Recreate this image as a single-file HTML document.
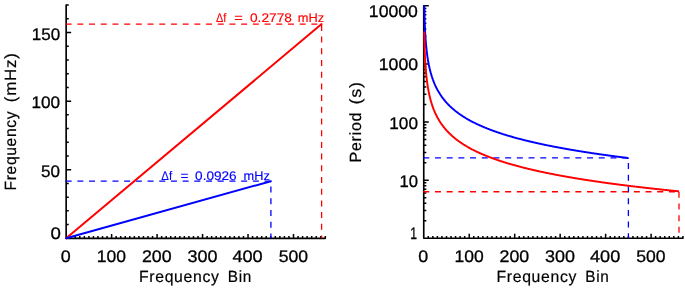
<!DOCTYPE html>
<html lang="en"><head><meta charset="utf-8"><title>Frequency and Period vs Frequency Bin</title>
<style>html,body{margin:0;padding:0;background:#fff;overflow:hidden}svg{display:block;will-change:transform}</style>
</head><body>
<svg width="685" height="288" viewBox="0 0 685 288" font-family='"Liberation Sans", sans-serif' stroke-width="0.3" text-rendering="geometricPrecision">
<path d="M66.15 5.1V238.3H325.33" stroke="#000000" stroke-width="1.65" fill="none" stroke-linecap="round" stroke-linejoin="round"/>
<path d="M70.7 238.3v-2.2M75.24 238.3v-2.2M79.79 238.3v-2.2M84.34 238.3v-2.2M88.89 238.3v-2.2M93.43 238.3v-2.2M97.98 238.3v-2.2M102.53 238.3v-2.2M107.07 238.3v-2.2M111.62 238.3v-4.4M116.17 238.3v-2.2M120.71 238.3v-2.2M125.26 238.3v-2.2M129.81 238.3v-2.2M134.36 238.3v-2.2M138.9 238.3v-2.2M143.45 238.3v-2.2M148 238.3v-2.2M152.54 238.3v-2.2M157.09 238.3v-4.4M161.64 238.3v-2.2M166.18 238.3v-2.2M170.73 238.3v-2.2M175.28 238.3v-2.2M179.82 238.3v-2.2M184.37 238.3v-2.2M188.92 238.3v-2.2M193.47 238.3v-2.2M198.01 238.3v-2.2M202.56 238.3v-4.4M207.11 238.3v-2.2M211.65 238.3v-2.2M216.2 238.3v-2.2M220.75 238.3v-2.2M225.3 238.3v-2.2M229.84 238.3v-2.2M234.39 238.3v-2.2M238.94 238.3v-2.2M243.48 238.3v-2.2M248.03 238.3v-4.4M252.58 238.3v-2.2M257.12 238.3v-2.2M261.67 238.3v-2.2M266.22 238.3v-2.2M270.76 238.3v-2.2M275.31 238.3v-2.2M279.86 238.3v-2.2M284.41 238.3v-2.2M288.95 238.3v-2.2M293.5 238.3v-4.4M298.05 238.3v-2.2M302.59 238.3v-2.2M307.14 238.3v-2.2M311.69 238.3v-2.2M316.24 238.3v-2.2M320.78 238.3v-2.2M325.33 238.3v-2.2M66.15 224.58h2.6M66.15 210.87h2.6M66.15 197.15h2.6M66.15 183.43h2.6M66.15 169.72h5M66.15 156h2.6M66.15 142.28h2.6M66.15 128.57h2.6M66.15 114.85h2.6M66.15 101.13h5M66.15 87.42h2.6M66.15 73.7h2.6M66.15 59.98h2.6M66.15 46.27h2.6M66.15 32.55h5M66.15 18.83h2.6M66.15 5.12h2.6" stroke="#000000" stroke-width="1.5" fill="none"/>
<path d="M65.65 24.1H321.6" stroke="#ff0000" stroke-width="1.3" stroke-dasharray="6 5.7" stroke-dashoffset="0" fill="none"/>
<path d="M321.6 24.9V238.3" stroke="#ff0000" stroke-width="1.3" stroke-dasharray="6 5.7" stroke-dashoffset="0" fill="none"/>
<path d="M65.65 181.2H270.9" stroke="#0000ff" stroke-width="1.3" stroke-dasharray="6 5.7" stroke-dashoffset="0" fill="none"/>
<path d="M270.9 181.2V238.3" stroke="#0000ff" stroke-width="1.3" stroke-dasharray="6 5.7" stroke-dashoffset="6.3" fill="none"/>
<path d="M66.15 238.3L321.6 24.1" stroke="#ff0000" stroke-width="1.95" fill="none" stroke-linecap="round"/>
<path d="M66.15 238.3L270.9 181.2" stroke="#0000ff" stroke-width="1.95" fill="none" stroke-linecap="round"/>
<text transform="translate(60.7 262.3) scale(1.0667 1)" font-size="16.8" fill="#000000"  stroke="#000000">0</text>
<text transform="translate(96.86 262.3) scale(1.0425 1)" font-size="16.8" fill="#000000"  stroke="#000000">100</text>
<text transform="translate(141.9 262.3) scale(1.0591 1)" font-size="16.8" fill="#000000"  stroke="#000000">200</text>
<text transform="translate(187.5 262.3) scale(1.0699 1)" font-size="16.8" fill="#000000"  stroke="#000000">300</text>
<text transform="translate(232.4 262.3) scale(1.0808 1)" font-size="16.8" fill="#000000"  stroke="#000000">400</text>
<text transform="translate(278.7 262.3) scale(1.0482 1)" font-size="16.8" fill="#000000"  stroke="#000000">500</text>
<text transform="translate(31.79 39.7) scale(1.0125 1)" font-size="16.8" fill="#000000"  stroke="#000000">150</text>
<text transform="translate(31.48 108.4) scale(1.0238 1)" font-size="16.8" fill="#000000"  stroke="#000000">100</text>
<text transform="translate(41.1 176.9) scale(1.0146 1)" font-size="16.8" fill="#000000"  stroke="#000000">50</text>
<text transform="translate(50.6 238.8) scale(1.1111 1)" font-size="16.8" fill="#000000"  stroke="#000000">0</text>
<text transform="translate(138.93 281.75) scale(0.9712 1)" font-size="16.25" fill="#000000"  stroke="#000000" stroke-width="0.2" letter-spacing="0.7">Frequency</text>
<text transform="translate(227.76 281.75) scale(0.9436 1)" font-size="16.25" fill="#000000"  stroke="#000000" stroke-width="0.2" letter-spacing="0.7">Bin</text>
<text transform="translate(16.3 190.56) rotate(-90) scale(0.9614 1)" font-size="16.25" fill="#000000"  stroke="#000000" stroke-width="0.2" letter-spacing="0.7">Frequency</text>
<text transform="translate(16.3 102.14) rotate(-90) scale(1.0399 1)" font-size="16.25" fill="#000000"  stroke="#000000" stroke-width="0.2" letter-spacing="0.7">(mHz)</text>
<text transform="translate(215.9 22.2) scale(0.8745 1)" font-size="12.5" fill="#ff0000"  stroke="#ff0000" stroke-width="0.15">Δf</text>
<text transform="translate(234.2 22.2) scale(1.1714 1)" font-size="12.5" fill="#ff0000"  stroke="#ff0000" stroke-width="0.15">=</text>
<text transform="translate(250 22.2) scale(1.0946 1)" font-size="12.5" fill="#ff0000"  stroke="#ff0000" stroke-width="0.15">0.2778</text>
<text transform="translate(297.8 22.2) scale(1.0260 1)" font-size="12.5" fill="#ff0000"  stroke="#ff0000" stroke-width="0.15">mHz</text>
<text transform="translate(161.3 180.2) scale(0.9150 1)" font-size="12.5" fill="#0000ff"  stroke="#0000ff" stroke-width="0.15">Δf</text>
<text transform="translate(180.4 180.2) scale(1.0857 1)" font-size="12.5" fill="#0000ff"  stroke="#0000ff" stroke-width="0.15">=</text>
<text transform="translate(195.1 180.2) scale(1.0867 1)" font-size="12.5" fill="#0000ff"  stroke="#0000ff" stroke-width="0.15">0.0926</text>
<text transform="translate(243.6 180.2) scale(1.0181 1)" font-size="12.5" fill="#0000ff"  stroke="#0000ff" stroke-width="0.15">mHz</text>
<clipPath id="c"><rect x="421.75" y="5.5" width="270" height="240"/></clipPath>
<path d="M423.75 5.8V238.25H682.93" stroke="#000000" stroke-width="1.65" fill="none" stroke-linecap="round" stroke-linejoin="round"/>
<path d="M428.3 238.25v-2.2M432.84 238.25v-2.2M437.39 238.25v-2.2M441.94 238.25v-2.2M446.49 238.25v-2.2M451.03 238.25v-2.2M455.58 238.25v-2.2M460.13 238.25v-2.2M464.67 238.25v-2.2M469.22 238.25v-4.4M473.77 238.25v-2.2M478.31 238.25v-2.2M482.86 238.25v-2.2M487.41 238.25v-2.2M491.95 238.25v-2.2M496.5 238.25v-2.2M501.05 238.25v-2.2M505.6 238.25v-2.2M510.14 238.25v-2.2M514.69 238.25v-4.4M519.24 238.25v-2.2M523.78 238.25v-2.2M528.33 238.25v-2.2M532.88 238.25v-2.2M537.42 238.25v-2.2M541.97 238.25v-2.2M546.52 238.25v-2.2M551.07 238.25v-2.2M555.61 238.25v-2.2M560.16 238.25v-4.4M564.71 238.25v-2.2M569.25 238.25v-2.2M573.8 238.25v-2.2M578.35 238.25v-2.2M582.89 238.25v-2.2M587.44 238.25v-2.2M591.99 238.25v-2.2M596.54 238.25v-2.2M601.08 238.25v-2.2M605.63 238.25v-4.4M610.18 238.25v-2.2M614.72 238.25v-2.2M619.27 238.25v-2.2M623.82 238.25v-2.2M628.37 238.25v-2.2M632.91 238.25v-2.2M637.46 238.25v-2.2M642.01 238.25v-2.2M646.55 238.25v-2.2M651.1 238.25v-4.4M655.65 238.25v-2.2M660.19 238.25v-2.2M664.74 238.25v-2.2M669.29 238.25v-2.2M673.84 238.25v-2.2M678.38 238.25v-2.2M682.93 238.25v-2.2M423.75 220.76h2.6M423.75 210.52h2.6M423.75 203.26h2.6M423.75 197.63h2.6M423.75 193.03h2.6M423.75 189.14h2.6M423.75 185.77h2.6M423.75 182.8h2.6M423.75 180.14h5M423.75 162.64h2.6M423.75 152.41h2.6M423.75 145.15h2.6M423.75 139.52h2.6M423.75 134.92h2.6M423.75 131.03h2.6M423.75 127.66h2.6M423.75 124.68h2.6M423.75 122.03h5M423.75 104.53h2.6M423.75 94.3h2.6M423.75 87.04h2.6M423.75 81.41h2.6M423.75 76.8h2.6M423.75 72.91h2.6M423.75 69.54h2.6M423.75 66.57h2.6M423.75 63.91h5M423.75 46.42h2.6M423.75 36.19h2.6M423.75 28.93h2.6M423.75 23.29h2.6M423.75 18.69h2.6M423.75 14.8h2.6M423.75 11.43h2.6M423.75 8.46h2.6M423.75 5.8h5" stroke="#000000" stroke-width="1.5" fill="none"/>
<path d="M423.25 157.8H628.4" stroke="#0000ff" stroke-width="1.3" stroke-dasharray="6 5.7" stroke-dashoffset="0" fill="none"/>
<path d="M628.4 157.8V238.25" stroke="#0000ff" stroke-width="1.3" stroke-dasharray="6 5.7" stroke-dashoffset="6.4" fill="none"/>
<path d="M423.25 191.75H679" stroke="#ff0000" stroke-width="1.3" stroke-dasharray="6 5.7" stroke-dashoffset="0" fill="none"/>
<path d="M679 191.75V238.25" stroke="#ff0000" stroke-width="1.3" stroke-dasharray="6 5.7" stroke-dashoffset="0" fill="none"/>
<path clip-path="url(#c)" d="M424.2 3.86L424.66 21.35L425.11 31.59L425.57 38.85L426.02 44.48L426.48 49.08L426.93 52.97L427.39 56.34L427.84 59.31L428.3 61.97L428.75 64.38L429.21 66.57L429.66 68.59L430.12 70.46L430.57 72.21L431.03 73.83L431.48 75.36L431.93 76.81L432.39 78.17L432.84 79.47L433.3 80.7L433.75 81.87L434.21 82.99L434.66 84.07L435.12 85.1L435.57 86.09L436.03 87.04L436.48 87.96L436.94 88.84L437.39 89.7L437.85 90.53L438.3 91.33L438.76 92.1L439.21 92.86L439.66 93.59L440.12 94.3L440.57 94.99L441.03 95.66L441.48 96.32L441.94 96.96L442.39 97.58L442.85 98.19L443.3 98.78L443.76 99.36L444.21 99.93L444.67 100.49L445.12 101.03L445.58 101.56L446.03 102.08L446.49 102.59L446.94 103.09L447.39 103.58L447.85 104.06L448.3 104.53L448.76 105L449.21 105.45L449.67 105.9L450.12 106.34L450.58 106.77L451.03 107.19L451.49 107.61L451.94 108.02L452.4 108.42L452.85 108.82L453.31 109.21L453.76 109.6L454.21 109.98L454.67 110.35L455.12 110.72L455.58 111.08L456.03 111.44L456.49 111.79L456.94 112.14L457.4 112.49L457.85 112.82L458.31 113.16L458.76 113.49L459.22 113.81L459.67 114.14L460.13 114.45L460.58 114.77L461.04 115.08L461.49 115.38L461.94 115.68L462.4 115.98L462.85 116.28L463.31 116.57L463.76 116.86L464.22 117.14L464.67 117.43L465.13 117.7L465.58 117.98L466.04 118.25L466.49 118.52L466.95 118.79L467.4 119.05L467.86 119.32L468.31 119.57L468.77 119.83L469.22 120.08L469.67 120.34L470.13 120.58L470.58 120.83L471.04 121.07L471.49 121.32L471.95 121.56L472.4 121.79L472.86 122.03L473.31 122.26L473.77 122.49L474.22 122.72L474.68 122.94L475.13 123.17L475.59 123.39L476.04 123.61L476.5 123.83L476.95 124.05L477.4 124.26L477.86 124.47L478.31 124.69L478.77 124.9L479.22 125.1L479.68 125.31L480.13 125.51L480.59 125.72L481.04 125.92L481.5 126.12L481.95 126.31L482.41 126.51L482.86 126.71L483.32 126.9L483.77 127.09L484.23 127.28L484.68 127.47L485.13 127.66L485.59 127.84L486.04 128.03L486.5 128.21L486.95 128.4L487.41 128.58L487.86 128.76L488.32 128.93L488.77 129.11L489.23 129.29L489.68 129.46L490.14 129.64L490.59 129.81L491.05 129.98L491.5 130.15L491.95 130.32L492.41 130.49L492.86 130.65L493.32 130.82L493.77 130.98L494.23 131.15L494.68 131.31L495.14 131.47L495.59 131.63L496.05 131.79L496.5 131.95L496.96 132.1L497.41 132.26L497.87 132.42L498.32 132.57L498.78 132.72L499.23 132.88L499.68 133.03L500.14 133.18L500.59 133.33L501.05 133.48L501.5 133.62L501.96 133.77L502.41 133.92L502.87 134.06L503.32 134.21L503.78 134.35L504.23 134.5L504.69 134.64L505.14 134.78L505.6 134.92L506.05 135.06L506.51 135.2L506.96 135.34L507.41 135.47L507.87 135.61L508.32 135.75L508.78 135.88L509.23 136.02L509.69 136.15L510.14 136.28L510.6 136.42L511.05 136.55L511.51 136.68L511.96 136.81L512.42 136.94L512.87 137.07L513.33 137.2L513.78 137.32L514.24 137.45L514.69 137.58L515.14 137.7L515.6 137.83L516.05 137.95L516.51 138.08L516.96 138.2L517.42 138.32L517.87 138.45L518.33 138.57L518.78 138.69L519.24 138.81L519.69 138.93L520.15 139.05L520.6 139.17L521.06 139.29L521.51 139.4L521.97 139.52L522.42 139.64L522.87 139.75L523.33 139.87L523.78 139.98L524.24 140.1L524.69 140.21L525.15 140.33L525.6 140.44L526.06 140.55L526.51 140.66L526.97 140.77L527.42 140.89L527.88 141L528.33 141.11L528.79 141.22L529.24 141.32L529.7 141.43L530.15 141.54L530.6 141.65L531.06 141.76L531.51 141.86L531.97 141.97L532.42 142.07L532.88 142.18L533.33 142.28L533.79 142.39L534.24 142.49L534.7 142.6L535.15 142.7L535.61 142.8L536.06 142.91L536.52 143.01L536.97 143.11L537.42 143.21L537.88 143.31L538.33 143.41L538.79 143.51L539.24 143.61L539.7 143.71L540.15 143.81L540.61 143.91L541.06 144L541.52 144.1L541.97 144.2L542.43 144.3L542.88 144.39L543.34 144.49L543.79 144.59L544.25 144.68L544.7 144.78L545.15 144.87L545.61 144.96L546.06 145.06L546.52 145.15L546.97 145.25L547.43 145.34L547.88 145.43L548.34 145.52L548.79 145.62L549.25 145.71L549.7 145.8L550.16 145.89L550.61 145.98L551.07 146.07L551.52 146.16L551.98 146.25L552.43 146.34L552.88 146.43L553.34 146.52L553.79 146.61L554.25 146.69L554.7 146.78L555.16 146.87L555.61 146.96L556.07 147.04L556.52 147.13L556.98 147.22L557.43 147.3L557.89 147.39L558.34 147.47L558.8 147.56L559.25 147.64L559.71 147.73L560.16 147.81L560.61 147.9L561.07 147.98L561.52 148.06L561.98 148.15L562.43 148.23L562.89 148.31L563.34 148.39L563.8 148.48L564.25 148.56L564.71 148.64L565.16 148.72L565.62 148.8L566.07 148.88L566.53 148.96L566.98 149.04L567.44 149.12L567.89 149.2L568.34 149.28L568.8 149.36L569.25 149.44L569.71 149.52L570.16 149.6L570.62 149.68L571.07 149.75L571.53 149.83L571.98 149.91L572.44 149.99L572.89 150.06L573.35 150.14L573.8 150.22L574.26 150.29L574.71 150.37L575.17 150.45L575.62 150.52L576.07 150.6L576.53 150.67L576.98 150.75L577.44 150.82L577.89 150.9L578.35 150.97L578.8 151.04L579.26 151.12L579.71 151.19L580.17 151.27L580.62 151.34L581.08 151.41L581.53 151.48L581.99 151.56L582.44 151.63L582.89 151.7L583.35 151.77L583.8 151.85L584.26 151.92L584.71 151.99L585.17 152.06L585.62 152.13L586.08 152.2L586.53 152.27L586.99 152.34L587.44 152.41L587.9 152.48L588.35 152.55L588.81 152.62L589.26 152.69L589.72 152.76L590.17 152.83L590.62 152.9L591.08 152.97L591.53 153.04L591.99 153.1L592.44 153.17L592.9 153.24L593.35 153.31L593.81 153.38L594.26 153.44L594.72 153.51L595.17 153.58L595.63 153.64L596.08 153.71L596.54 153.78L596.99 153.84L597.45 153.91L597.9 153.98L598.35 154.04L598.81 154.11L599.26 154.17L599.72 154.24L600.17 154.3L600.63 154.37L601.08 154.43L601.54 154.5L601.99 154.56L602.45 154.63L602.9 154.69L603.36 154.75L603.81 154.82L604.27 154.88L604.72 154.95L605.18 155.01L605.63 155.07L606.08 155.13L606.54 155.2L606.99 155.26L607.45 155.32L607.9 155.39L608.36 155.45L608.81 155.51L609.27 155.57L609.72 155.63L610.18 155.7L610.63 155.76L611.09 155.82L611.54 155.88L612 155.94L612.45 156L612.91 156.06L613.36 156.12L613.81 156.18L614.27 156.24L614.72 156.3L615.18 156.36L615.63 156.42L616.09 156.48L616.54 156.54L617 156.6L617.45 156.66L617.91 156.72L618.36 156.78L618.82 156.84L619.27 156.9L619.73 156.96L620.18 157.01L620.64 157.07L621.09 157.13L621.54 157.19L622 157.25L622.45 157.3L622.91 157.36L623.36 157.42L623.82 157.48L624.27 157.53L624.73 157.59L625.18 157.65L625.64 157.71L626.09 157.76L626.55 157.82L627 157.88L627.46 157.93L627.91 157.99L628.4 157.5" stroke="#0000ff" stroke-width="1.95" fill="none" stroke-linejoin="round"/>
<path clip-path="url(#c)" d="M424.2 31.59L424.66 49.08L425.11 59.31L425.57 66.57L426.02 72.21L426.48 76.81L426.93 80.7L427.39 84.07L427.84 87.04L428.3 89.7L428.75 92.1L429.21 94.3L429.66 96.32L430.12 98.19L430.57 99.93L431.03 101.56L431.48 103.09L431.93 104.53L432.39 105.9L432.84 107.19L433.3 108.42L433.75 109.6L434.21 110.72L434.66 111.79L435.12 112.82L435.57 113.81L436.03 114.77L436.48 115.68L436.94 116.57L437.39 117.43L437.85 118.25L438.3 119.05L438.76 119.83L439.21 120.58L439.66 121.32L440.12 122.03L440.57 122.72L441.03 123.39L441.48 124.05L441.94 124.69L442.39 125.31L442.85 125.92L443.3 126.51L443.76 127.09L444.21 127.66L444.67 128.21L445.12 128.76L445.58 129.29L446.03 129.81L446.49 130.32L446.94 130.82L447.39 131.31L447.85 131.79L448.3 132.26L448.76 132.72L449.21 133.18L449.67 133.62L450.12 134.06L450.58 134.5L451.03 134.92L451.49 135.34L451.94 135.75L452.4 136.15L452.85 136.55L453.31 136.94L453.76 137.32L454.21 137.7L454.67 138.08L455.12 138.45L455.58 138.81L456.03 139.17L456.49 139.52L456.94 139.87L457.4 140.21L457.85 140.55L458.31 140.89L458.76 141.22L459.22 141.54L459.67 141.86L460.13 142.18L460.58 142.49L461.04 142.8L461.49 143.11L461.94 143.41L462.4 143.71L462.85 144L463.31 144.3L463.76 144.59L464.22 144.87L464.67 145.15L465.13 145.43L465.58 145.71L466.04 145.98L466.49 146.25L466.95 146.52L467.4 146.78L467.86 147.04L468.31 147.3L468.77 147.56L469.22 147.81L469.67 148.06L470.13 148.31L470.58 148.56L471.04 148.8L471.49 149.04L471.95 149.28L472.4 149.52L472.86 149.75L473.31 149.99L473.77 150.22L474.22 150.45L474.68 150.67L475.13 150.9L475.59 151.12L476.04 151.34L476.5 151.56L476.95 151.77L477.4 151.99L477.86 152.2L478.31 152.41L478.77 152.62L479.22 152.83L479.68 153.04L480.13 153.24L480.59 153.44L481.04 153.64L481.5 153.84L481.95 154.04L482.41 154.24L482.86 154.43L483.32 154.63L483.77 154.82L484.23 155.01L484.68 155.2L485.13 155.39L485.59 155.57L486.04 155.76L486.5 155.94L486.95 156.12L487.41 156.3L487.86 156.48L488.32 156.66L488.77 156.84L489.23 157.01L489.68 157.19L490.14 157.36L490.59 157.53L491.05 157.71L491.5 157.88L491.95 158.04L492.41 158.21L492.86 158.38L493.32 158.54L493.77 158.71L494.23 158.87L494.68 159.03L495.14 159.2L495.59 159.36L496.05 159.52L496.5 159.67L496.96 159.83L497.41 159.99L497.87 160.14L498.32 160.3L498.78 160.45L499.23 160.6L499.68 160.75L500.14 160.9L500.59 161.05L501.05 161.2L501.5 161.35L501.96 161.5L502.41 161.64L502.87 161.79L503.32 161.93L503.78 162.08L504.23 162.22L504.69 162.36L505.14 162.51L505.6 162.65L506.05 162.79L506.51 162.92L506.96 163.06L507.41 163.2L507.87 163.34L508.32 163.47L508.78 163.61L509.23 163.74L509.69 163.88L510.14 164.01L510.6 164.14L511.05 164.27L511.51 164.41L511.96 164.54L512.42 164.67L512.87 164.8L513.33 164.92L513.78 165.05L514.24 165.18L514.69 165.3L515.14 165.43L515.6 165.56L516.05 165.68L516.51 165.8L516.96 165.93L517.42 166.05L517.87 166.17L518.33 166.29L518.78 166.42L519.24 166.54L519.69 166.66L520.15 166.78L520.6 166.89L521.06 167.01L521.51 167.13L521.97 167.25L522.42 167.36L522.87 167.48L523.33 167.6L523.78 167.71L524.24 167.82L524.69 167.94L525.15 168.05L525.6 168.17L526.06 168.28L526.51 168.39L526.97 168.5L527.42 168.61L527.88 168.72L528.33 168.83L528.79 168.94L529.24 169.05L529.7 169.16L530.15 169.27L530.6 169.38L531.06 169.48L531.51 169.59L531.97 169.7L532.42 169.8L532.88 169.91L533.33 170.01L533.79 170.12L534.24 170.22L534.7 170.32L535.15 170.43L535.61 170.53L536.06 170.63L536.52 170.73L536.97 170.84L537.42 170.94L537.88 171.04L538.33 171.14L538.79 171.24L539.24 171.34L539.7 171.44L540.15 171.54L540.61 171.63L541.06 171.73L541.52 171.83L541.97 171.93L542.43 172.02L542.88 172.12L543.34 172.22L543.79 172.31L544.25 172.41L544.7 172.5L545.15 172.6L545.61 172.69L546.06 172.79L546.52 172.88L546.97 172.97L547.43 173.07L547.88 173.16L548.34 173.25L548.79 173.34L549.25 173.43L549.7 173.52L550.16 173.62L550.61 173.71L551.07 173.8L551.52 173.89L551.98 173.98L552.43 174.07L552.88 174.15L553.34 174.24L553.79 174.33L554.25 174.42L554.7 174.51L555.16 174.6L555.61 174.68L556.07 174.77L556.52 174.86L556.98 174.94L557.43 175.03L557.89 175.11L558.34 175.2L558.8 175.28L559.25 175.37L559.71 175.45L560.16 175.54L560.61 175.62L561.07 175.71L561.52 175.79L561.98 175.87L562.43 175.96L562.89 176.04L563.34 176.12L563.8 176.2L564.25 176.28L564.71 176.37L565.16 176.45L565.62 176.53L566.07 176.61L566.53 176.69L566.98 176.77L567.44 176.85L567.89 176.93L568.34 177.01L568.8 177.09L569.25 177.17L569.71 177.25L570.16 177.32L570.62 177.4L571.07 177.48L571.53 177.56L571.98 177.64L572.44 177.71L572.89 177.79L573.35 177.87L573.8 177.94L574.26 178.02L574.71 178.1L575.17 178.17L575.62 178.25L576.07 178.32L576.53 178.4L576.98 178.47L577.44 178.55L577.89 178.62L578.35 178.7L578.8 178.77L579.26 178.84L579.71 178.92L580.17 178.99L580.62 179.07L581.08 179.14L581.53 179.21L581.99 179.28L582.44 179.36L582.89 179.43L583.35 179.5L583.8 179.57L584.26 179.64L584.71 179.72L585.17 179.79L585.62 179.86L586.08 179.93L586.53 180L586.99 180.07L587.44 180.14L587.9 180.21L588.35 180.28L588.81 180.35L589.26 180.42L589.72 180.49L590.17 180.56L590.62 180.63L591.08 180.69L591.53 180.76L591.99 180.83L592.44 180.9L592.9 180.97L593.35 181.03L593.81 181.1L594.26 181.17L594.72 181.24L595.17 181.3L595.63 181.37L596.08 181.44L596.54 181.5L596.99 181.57L597.45 181.64L597.9 181.7L598.35 181.77L598.81 181.83L599.26 181.9L599.72 181.96L600.17 182.03L600.63 182.09L601.08 182.16L601.54 182.22L601.99 182.29L602.45 182.35L602.9 182.42L603.36 182.48L603.81 182.54L604.27 182.61L604.72 182.67L605.18 182.74L605.63 182.8L606.08 182.86L606.54 182.92L606.99 182.99L607.45 183.05L607.9 183.11L608.36 183.17L608.81 183.24L609.27 183.3L609.72 183.36L610.18 183.42L610.63 183.48L611.09 183.54L611.54 183.61L612 183.67L612.45 183.73L612.91 183.79L613.36 183.85L613.81 183.91L614.27 183.97L614.72 184.03L615.18 184.09L615.63 184.15L616.09 184.21L616.54 184.27L617 184.33L617.45 184.39L617.91 184.45L618.36 184.51L618.82 184.57L619.27 184.62L619.73 184.68L620.18 184.74L620.64 184.8L621.09 184.86L621.54 184.92L622 184.97L622.45 185.03L622.91 185.09L623.36 185.15L623.82 185.2L624.27 185.26L624.73 185.32L625.18 185.38L625.64 185.43L626.09 185.49L626.55 185.55L627 185.6L627.46 185.66L627.91 185.72L628.37 185.77L628.82 185.83L629.27 185.88L629.73 185.94L630.18 185.99L630.64 186.05L631.09 186.11L631.55 186.16L632 186.22L632.46 186.27L632.91 186.33L633.37 186.38L633.82 186.44L634.28 186.49L634.73 186.54L635.19 186.6L635.64 186.65L636.09 186.71L636.55 186.76L637 186.81L637.46 186.87L637.91 186.92L638.37 186.98L638.82 187.03L639.28 187.08L639.73 187.14L640.19 187.19L640.64 187.24L641.1 187.29L641.55 187.35L642.01 187.4L642.46 187.45L642.92 187.5L643.37 187.56L643.82 187.61L644.28 187.66L644.73 187.71L645.19 187.77L645.64 187.82L646.1 187.87L646.55 187.92L647.01 187.97L647.46 188.02L647.92 188.07L648.37 188.13L648.83 188.18L649.28 188.23L649.74 188.28L650.19 188.33L650.65 188.38L651.1 188.43L651.55 188.48L652.01 188.53L652.46 188.58L652.92 188.63L653.37 188.68L653.83 188.73L654.28 188.78L654.74 188.83L655.19 188.88L655.65 188.93L656.1 188.98L656.56 189.03L657.01 189.08L657.47 189.13L657.92 189.18L658.38 189.23L658.83 189.27L659.28 189.32L659.74 189.37L660.19 189.42L660.65 189.47L661.1 189.52L661.56 189.57L662.01 189.61L662.47 189.66L662.92 189.71L663.38 189.76L663.83 189.81L664.29 189.85L664.74 189.9L665.2 189.95L665.65 190L666.11 190.04L666.56 190.09L667.01 190.14L667.47 190.18L667.92 190.23L668.38 190.28L668.83 190.33L669.29 190.37L669.74 190.42L670.2 190.47L670.65 190.51L671.11 190.56L671.56 190.61L672.02 190.65L672.47 190.7L672.93 190.74L673.38 190.79L673.84 190.84L674.29 190.88L674.74 190.93L675.2 190.97L675.65 191.02L676.11 191.06L676.56 191.11L677.02 191.15L677.47 191.2L677.93 191.25L679 191.45" stroke="#ff0000" stroke-width="1.95" fill="none" stroke-linejoin="round"/>
<text transform="translate(418.3 262.3) scale(1.0667 1)" font-size="16.8" fill="#000000"  stroke="#000000">0</text>
<text transform="translate(454.46 262.3) scale(1.0425 1)" font-size="16.8" fill="#000000"  stroke="#000000">100</text>
<text transform="translate(499.5 262.3) scale(1.0591 1)" font-size="16.8" fill="#000000"  stroke="#000000">200</text>
<text transform="translate(545.1 262.3) scale(1.0699 1)" font-size="16.8" fill="#000000"  stroke="#000000">300</text>
<text transform="translate(590 262.3) scale(1.0808 1)" font-size="16.8" fill="#000000"  stroke="#000000">400</text>
<text transform="translate(636.3 262.3) scale(1.0482 1)" font-size="16.8" fill="#000000"  stroke="#000000">500</text>
<text transform="translate(368.85 16.55) scale(1.0500 1)" font-size="16.8" fill="#000000"  stroke="#000000">10000</text>
<text transform="translate(378.75 70.4) scale(1.0528 1)" font-size="16.8" fill="#000000"  stroke="#000000">1000</text>
<text transform="translate(389.28 128.8) scale(1.0238 1)" font-size="16.8" fill="#000000"  stroke="#000000">100</text>
<text transform="translate(399.41 186.8) scale(0.9923 1)" font-size="16.8" fill="#000000"  stroke="#000000">10</text>
<text transform="translate(410.17 238.7) scale(0.7250 1)" font-size="16.8" fill="#000000"  stroke="#000000">1</text>
<text transform="translate(496.43 281.75) scale(0.9712 1)" font-size="16.25" fill="#000000"  stroke="#000000" stroke-width="0.2" letter-spacing="0.7">Frequency</text>
<text transform="translate(585.26 281.75) scale(0.9436 1)" font-size="16.25" fill="#000000"  stroke="#000000" stroke-width="0.2" letter-spacing="0.7">Bin</text>
<text transform="translate(360.7 162.49) rotate(-90) scale(0.9909 1)" font-size="16.25" fill="#000000"  stroke="#000000" stroke-width="0.2" letter-spacing="0.7">Period</text>
<text transform="translate(360.7 104.5) rotate(-90) scale(1.1022 1)" font-size="16.25" fill="#000000"  stroke="#000000" stroke-width="0.2" letter-spacing="0.7">(s)</text>
</svg>
</body></html>
